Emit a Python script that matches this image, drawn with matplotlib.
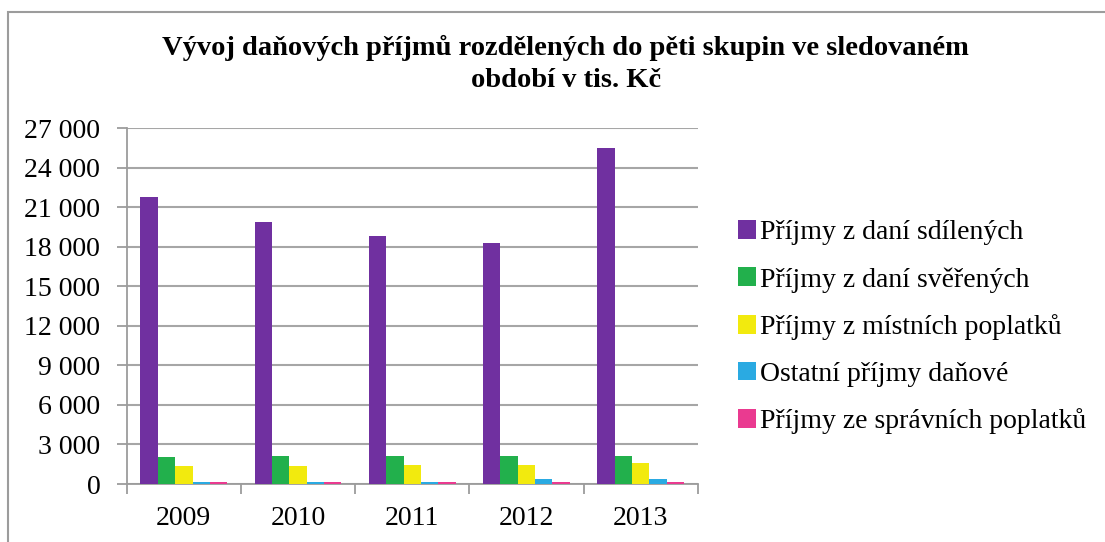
import numpy as np
import matplotlib
matplotlib.use("Agg")
import matplotlib.pyplot as plt
from matplotlib.patches import Rectangle, Patch
from matplotlib.ticker import FuncFormatter

years = ["2009", "2010", "2011", "2012", "2013"]
series = [
    "Příjmy z daní sdílených",
    "Příjmy z daní svěřených",
    "Příjmy z místních poplatků",
    "Ostatní příjmy daňové",
    "Příjmy ze správních poplatků",
]
sdilene = [21750, 19900, 18800, 18300, 25500]
sverene = [2050, 2150, 2150, 2150, 2150]
mistni = [1350, 1350, 1470, 1470, 1600]
ostatni = [130, 130, 130, 380, 380]
spravni = [130, 130, 130, 130, 130]
colors = ["#7030A0", "#22B04C", "#F2EA0E", "#2AAAE2", "#EA3A90"]

plt.rcParams["font.family"] = ["Liberation Serif", "DejaVu Serif"]

fig = plt.figure(figsize=(11.05, 5.42), dpi=100)
ax = fig.add_axes([0.1147, 0.107, 0.6314 - 0.1147, 0.7633 - 0.107])

# outer chart frame
fig.patches.append(Rectangle((8 / 1105, -0.1), 1.2, 1 - 12 / 542 + 0.1,
                             transform=fig.transFigure, fill=False,
                             edgecolor="#9c9c9c", linewidth=1.5))

x = np.arange(len(years))
w = 0.152
data = [sdilene, sverene, mistni, ostatni, spravni]
for i, vals in enumerate(data):
    ax.bar(x + (i - 2) * w, vals, w, color=colors[i], zorder=3, label=series[i])

ax.set_xlim(-0.5, 4.5)
ax.set_ylim(0, 27000)
ax.set_yticks(np.arange(0, 27001, 3000))
ax.yaxis.set_major_formatter(FuncFormatter(lambda v, p: f"{int(v):,}".replace(",", " ")))
ax.set_xticks(x)
ax.set_xticklabels(years)
ax.set_xticks(np.arange(-0.5, 4.6, 1), minor=True)
ax.tick_params(axis="x", which="major", length=0, labelsize=20, pad=16)
ax.tick_params(axis="x", which="minor", length=7, color="#9c9c9c", width=1.3)
ax.tick_params(axis="y", length=7, color="#9c9c9c", width=1.3, labelsize=20, pad=12)

ax.grid(axis="y", color="#a6a6a6", linewidth=1.5, zorder=0)
for s in ["top", "right"]:
    ax.spines[s].set_visible(False)
for s in ["left", "bottom"]:
    ax.spines[s].set_color("#9c9c9c")
    ax.spines[s].set_linewidth(1.3)

fig.text(0.512, 0.882, "Vývoj daňových příjmů rozdělených do pěti skupin ve sledovaném\nobdobí v tis. Kč",
         ha="center", va="center", fontsize=20.5, fontweight="bold", linespacing=1.38)

handles = [Patch(facecolor=c, edgecolor="none") for c in colors]
fig.legend(handles, series, loc="center left", bbox_to_anchor=(0.658, 0.396),
           frameon=False, fontsize=20, handlelength=0.65, handleheight=0.65,
           handletextpad=0.15, labelspacing=0.78, borderaxespad=0)

fig.savefig("out.png", dpi=100)
